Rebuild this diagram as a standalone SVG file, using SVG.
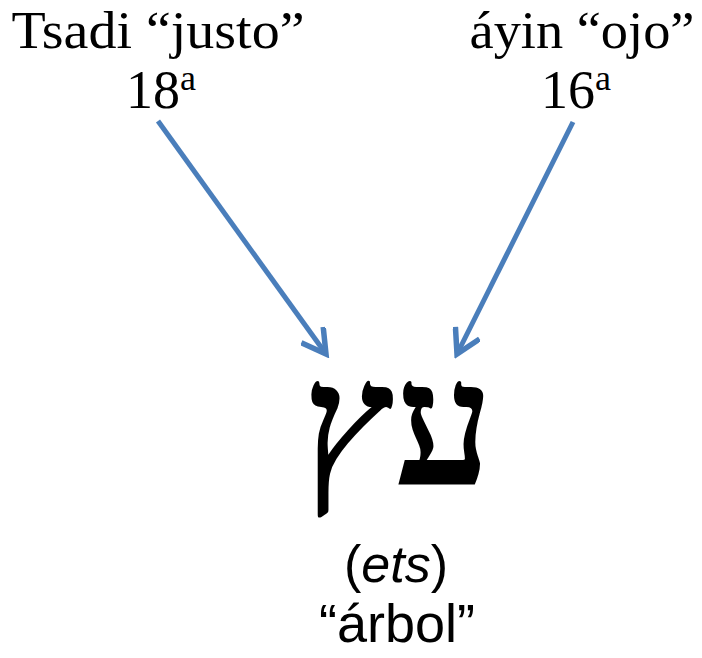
<svg xmlns="http://www.w3.org/2000/svg" width="702" height="658" viewBox="0 0 702 658">
<defs>
<style>
.serif{font-family:"Liberation Serif","DejaVu Serif",serif;fill:#000;text-anchor:middle}
.sans{font-family:"Liberation Sans",Arial,sans-serif;fill:#000;text-anchor:middle}
.arrow{stroke:#4a7ebb;stroke-width:5;fill:none;marker-end:url(#ah)}
</style>
<marker id="ah" markerWidth="6" markerHeight="6" refX="5" refY="3" orient="auto" markerUnits="strokeWidth">
<path d="M0.3,0.3 L5,3 L0.3,5.7" fill="none" stroke="#4a7ebb" stroke-width="1.1" stroke-linejoin="miter"/>
</marker>
</defs>
<rect width="702" height="658" fill="#fff"/>
<g id="tsadi">
<text class="serif" x="158" y="48" font-size="53" textLength="293" lengthAdjust="spacingAndGlyphs">Tsadi “justo”</text>
<text class="serif" x="161" y="108" font-size="54">18<tspan font-size="36" dy="-18">a</tspan></text>
</g>
<g id="ayin">
<text class="serif" x="582" y="48" font-size="53" textLength="225" lengthAdjust="spacingAndGlyphs">áyin “ojo”</text>
<text class="serif" x="576" y="108" font-size="54">16<tspan font-size="36" dy="-18">a</tspan></text>
</g>
<g id="connectors">
<line class="arrow" x1="158" y1="121" x2="326" y2="354"/>
<line class="arrow" x1="573" y1="122" x2="457" y2="354"/>
</g>
<g id="ets">
<text class="serif" x="398" y="484" font-size="176" font-weight="bold" direction="rtl" unicode-bidi="bidi-override">עץ</text>
<text class="sans" x="396" y="582" font-size="52">(<tspan font-style="italic">ets</tspan>)</text>
<text class="sans" x="397" y="642" font-size="54">“árbol”</text>
</g>
</svg>
